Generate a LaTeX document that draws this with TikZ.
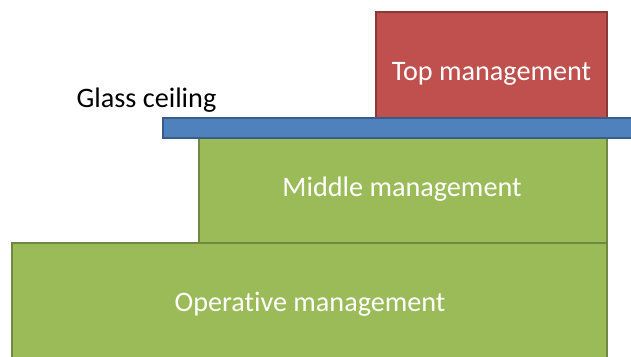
\documentclass[tikz,border=0pt]{standalone}
\usepackage{fontspec}
\setmainfont[Ligatures=NoCommon]{Carlito}
\begin{document}
\begin{tikzpicture}[x=1pt,y=-1pt,
  level/.style={draw, line width=2pt, rectangle, inner sep=0pt, outer sep=0pt, anchor=north west},
  lbl/.style={anchor=base, inner sep=0pt, font=\fontsize{28.2}{34}\selectfont},
  boxlbl/.style={lbl, text=white}]
  \definecolor{topfill}{HTML}{C0504D}
  \definecolor{topline}{HTML}{8C3836}
  \definecolor{ceilfill}{HTML}{4F81BD}
  \definecolor{ceilline}{HTML}{385D8A}
  \definecolor{grnfill}{HTML}{9BBB59}
  \definecolor{grnline}{HTML}{71893F}
  \useasboundingbox (0,0) rectangle (631,356);
  \clip (0,0) rectangle (631,356);
  % pyramid of management levels
  \node[level, fill=grnfill, draw=grnline, minimum width=595pt, minimum height=120pt] (oper) at (12,243) {};
  \node[level, fill=grnfill, draw=grnline, minimum width=408pt, minimum height=106pt] (mid) at (199,137) {};
  \node[level, fill=topfill, draw=topline, minimum width=231pt, minimum height=106pt] (top) at (376,12) {};
  % the ceiling bar
  \node[level, fill=ceilfill, draw=ceilline, minimum width=480pt, minimum height=20pt] (bar) at (163,118) {};
  % texts (kern keeps "t" and "i" as separate glyphs)
  \node[boxlbl] (toptext) at (491.5,80) {Top management};
  \node[boxlbl] (midtext) at (402,196) {Middle management};
  \node[boxlbl] (opertext) at (310,311) {Operat\kern0pt ive management};
  \node[lbl] (ceiltext) at (146.5,107.5) {Glass ceiling};
\end{tikzpicture}
\end{document}
